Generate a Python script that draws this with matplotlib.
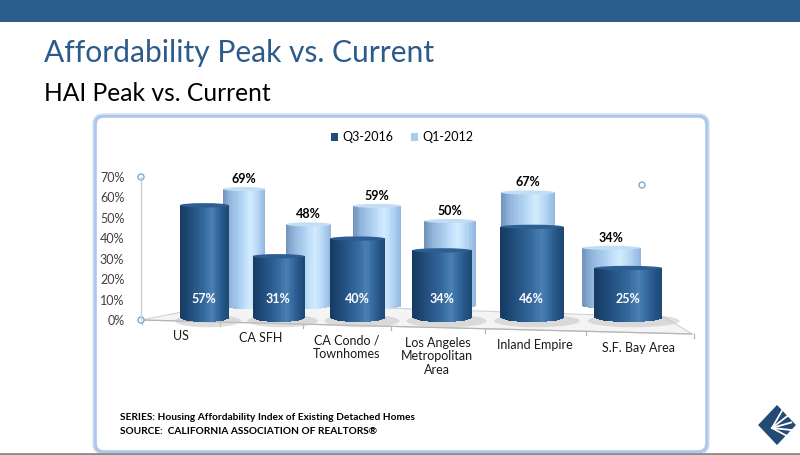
import numpy as np
import matplotlib
matplotlib.use("Agg")
import matplotlib.pyplot as plt
from matplotlib.patches import Ellipse, Polygon, Rectangle, FancyBboxPatch, Patch, Circle
from matplotlib.colors import LinearSegmentedColormap

# ---------------- data ----------------
categories = ["US", "CA SFH", "CA Condo /\nTownhomes", "Los Angeles\nMetropolitan\nArea",
              "Inland Empire", "S.F. Bay Area"]
q3_2016 = [57, 31, 40, 34, 46, 25]
q1_2012 = [69, 48, 59, 50, 67, 34]
series_names = ["Q3-2016", "Q1-2012"]
y_ticks = [0, 10, 20, 30, 40, 50, 60, 70]

# ---------------- style ----------------
plt.rcParams['font.family'] = ['Lato', 'DejaVu Sans']
W, H = 800, 455
fig = plt.figure(figsize=(W / 100, H / 100), dpi=100)
fig.patch.set_facecolor('white')


def frac_rect(x0, y0, x1, y1):
    return [x0 / W, 1 - y1 / H, (x1 - x0) / W, (y1 - y0) / H]


# perspective scale for category axis
C = 0.03
def fwd(i):
    i = np.asarray(i, dtype=float)
    return i / (1 - C * i)
def inv(u):
    u = np.asarray(u, dtype=float)
    return u / (1 + C * u)

# ---------------- canvas (decorations) ----------------
cv = fig.add_axes([0, 0, 1, 1])
cv.set_xlim(0, W)
cv.set_ylim(H, 0)
cv.axis('off')
cv.set_zorder(0)

cv.add_patch(Rectangle((0, 0), W, 22, color='#2b5e8c', lw=0))
cv.text(44, 62, "Affordability Peak vs. Current", fontsize=21.6, color='#2c5b8b',
        va='baseline', ha='left')
cv.text(44, 101, "HAI Peak vs. Current", fontsize=17.7, color='black',
        va='baseline', ha='left')

# chart frame
cv.add_patch(FancyBboxPatch((95, 116), 612, 336, boxstyle="round,pad=0,rounding_size=9",
                            fc='white', ec='#aec7ea', lw=2.6))
cv.add_patch(FancyBboxPatch((93, 114), 616, 340, boxstyle="round,pad=0,rounding_size=10",
                            fc='none', ec='#d6e2f2', lw=1.0))
cv.plot([0, W], [453.5, 453.5], color='#8c8c8c', lw=2)

# floor
FRONT_X0, FRONT_S = 180.5, 77.9
def edge_px(t):
    return FRONT_X0 + FRONT_S * fwd(t)
def edge_py(px):
    return 320 + (px - 141) * 14 / 551

floor = Polygon([(141, 320), (229, 303), (664, 317), (692, 334)], closed=True,
                fc='#f4f4f4', ec='#d2d2d2', lw=0.8)
cv.add_patch(floor)
cv.plot([141, 692], [320, 334], color='#b5b5b5', lw=0.9)
for t in np.arange(-0.5, len(categories), 1.0):
    px = float(edge_px(t))
    py = edge_py(px)
    cv.plot([px, px], [py, py + 4], color='#b5b5b5', lw=0.9)

# category labels
for i, lab in enumerate(categories):
    px = float(edge_px(i))
    cv.text(px, edge_py(px) + 9, lab, ha='center', va='top', fontsize=9,
            color='#1a1a1a', linespacing=1.15)

# footnote
cv.text(120, 418, "SERIES: Housing Affordability Index of Existing Detached Homes",
        fontsize=7.3, fontweight='bold', va='center', ha='left', color='black')
cv.text(120, 432, "SOURCE:  CALIFORNIA ASSOCIATION OF REALTORS\u00ae",
        fontsize=7.3, fontweight='bold', va='center', ha='left', color='black')

# logo (approximation)
cv.add_patch(Polygon([(760, 425), (777, 407), (794, 425), (777, 443)], closed=True,
                     fc='#234a72', ec='none'))
for k in range(5):
    a = np.deg2rad(-60 + k * 22)
    cv.plot([772, 772 + 20 * np.cos(a)], [428, 428 + 20 * np.sin(a)], color='white', lw=1.3)
cv.add_patch(Polygon([(760, 425), (777, 407), (794, 425), (777, 443)], closed=True,
                     fc='none', ec='#234a72', lw=2))

# ---------------- cylinders ----------------
dark_cmap = LinearSegmentedColormap.from_list('dark', [
    (0.0, '#163a60'), (0.2, '#1f4b7a'), (0.5, '#35699d'), (0.66, '#4a80b4'),
    (0.85, '#2a5c8f'), (1.0, '#1c4772')])
light_cmap = LinearSegmentedColormap.from_list('light', [
    (0.0, '#6f90b8'), (0.15, '#8fb2d9'), (0.45, '#b4d6f5'), (0.65, '#d3ecff'),
    (0.85, '#b0d2f2'), (1.0, '#90b5dd')])


def cylinder(ax, x, h, w, cmap, depth, top_h, top_color, z, N=40):
    t = (np.arange(N) + 0.5) / N
    lefts = x - w / 2 + np.arange(N) * w / N
    widths = np.full(N, w / N * 1.8)
    widths[-1] = w / N
    s = 2 * t - 1
    bottoms = -depth * np.sqrt(np.clip(1 - s * s, 0, 1))
    cols = [cmap(v) for v in t]
    ax.bar(lefts, h - bottoms, width=widths, bottom=bottoms, align='edge',
           color=cols, lw=0, zorder=z)
    ax.add_patch(Ellipse((x, h), w, top_h, fc=top_color, ec='none', zorder=z + 0.1))


BAR_W = 0.68
xs = np.arange(len(categories))

# back row (Q1-2012)
BACK_X0, BACK_S, BACK_Y0, BACK_SY = 244, 62.4, 305, 1.68
bx_lo, bx_hi = -0.7, 5.7
by_lo, by_hi = -6, 80
axb = fig.add_axes(frac_rect(BACK_X0 + BACK_S * float(fwd(bx_lo)), BACK_Y0 - BACK_SY * by_hi,
                             BACK_X0 + BACK_S * float(fwd(bx_hi)), BACK_Y0 - BACK_SY * by_lo))
axb.set_xscale('function', functions=(fwd, inv))
axb.set_xlim(bx_lo, bx_hi)
axb.set_ylim(by_lo, by_hi)
axb.axis('off')
axb.set_zorder(1)
for i, v in zip(xs, q1_2012):
    cylinder(axb, i, v, BAR_W, light_cmap, 2.4, 2.4, '#c3ddf5', 3)
    axb.annotate(f"{v}%", (i, v), xytext=(0, 10), textcoords='offset pixels',
                 ha='center', va='center', fontsize=9, fontweight='bold', color='black')

# front row (Q3-2016)
FR_X0, FR_S, FR_Y0, FR_SY = 204, 72.08, 317, 1.96
fx_lo, fx_hi = -0.7, 5.7
fy_lo, fy_hi = -7, 75
axf = fig.add_axes(frac_rect(FR_X0 + FR_S * float(fwd(fx_lo)), FR_Y0 - FR_SY * fy_hi,
                             FR_X0 + FR_S * float(fwd(fx_hi)), FR_Y0 - FR_SY * fy_lo))
axf.set_xscale('function', functions=(fwd, inv))
axf.set_xlim(fx_lo, fx_hi)
axf.set_ylim(fy_lo, fy_hi)
axf.axis('off')
axf.set_zorder(3)
for i, v in zip(xs, q3_2016):
    axf.add_patch(Ellipse((i + 0.05, -2.0), BAR_W * 1.35, 6.5, fc='#c4c4c4', ec='none',
                          alpha=0.55, zorder=1))
    cylinder(axf, i, v, BAR_W, dark_cmap, 2.6, 2.2, '#2d5e91', 3)
    axf.text(i, 9, f"{v}%", ha='center', va='center', fontsize=9, fontweight='bold',
             color='white', zorder=5)

# y axis
axy = fig.add_axes(frac_rect(141, 177, 142, 320))
axy.set_ylim(0, 70)
axy.set_xlim(0, 1)
axy.set_yticks(y_ticks)
axy.set_yticklabels([f"{t}%" for t in y_ticks])
axy.tick_params(axis='y', length=0, pad=12, labelsize=9, labelcolor='#404040')
axy.set_xticks([])
for sp in ['top', 'right', 'bottom']:
    axy.spines[sp].set_visible(False)
axy.spines['left'].set_color('#c8c8c8')
axy.spines['left'].set_linewidth(0.9)
axy.patch.set_alpha(0)
axy.set_zorder(2)

# selection handles (as in reference)
for (hx, hy) in [(141, 177), (141, 320), (229, 194), (229, 302), (642, 185), (642, 309)]:
    cv.add_patch(Circle((hx, hy), 3, fc='white', ec='#7fa8c9', lw=1.0, zorder=10))

# legend
handles = [Patch(fc='#1f4e7d', ec='none'), Patch(fc='#a8cbee', ec='none')]
leg = fig.legend(handles, series_names, loc='center', bbox_to_anchor=(402 / W, 1 - 137 / H),
                 ncol=2, frameon=False, fontsize=9, handlelength=0.6, handleheight=0.6,
                 handletextpad=0.3, columnspacing=1.4)

fig.savefig("out.png", dpi=100)
